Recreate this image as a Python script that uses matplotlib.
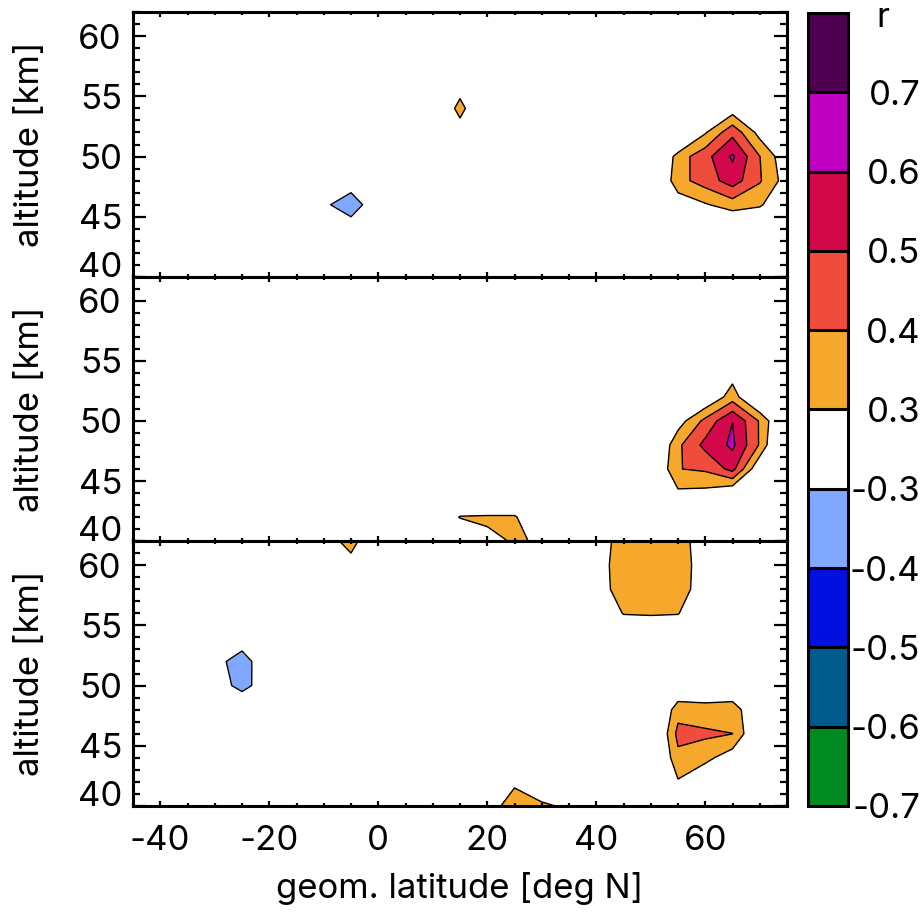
import matplotlib
matplotlib.use("Agg")
import matplotlib.pyplot as plt
import numpy as np
from matplotlib.ticker import MultipleLocator

plt.rcParams["font.family"] = ["Inter", "Liberation Sans", "DejaVu Sans"]
plt.rcParams["font.size"] = 25
plt.rcParams["contour.negative_linestyle"] = "solid"

# correlation grid: 5 deg latitude x 2 km altitude
lat_grid = np.arange(-45, 76, 5)
alt_grid = np.arange(40, 63, 2)

# grid nodes with non-zero r, (lat, alt, r); everything else is 0
top_nodes = [
    # blob near 65N
    (60, 54, 0.15), (65, 54, 0.24), (70, 54, 0.10),
    (55, 52, 0.05), (60, 52, 0.29), (65, 52, 0.471), (70, 52, 0.262), (75, 52, 0.10),
    (50, 50, 0.072), (55, 50, 0.35), (60, 50, 0.464), (65, 50, 0.615), (70, 50, 0.402), (75, 50, 0.22),
    (50, 48, 0.118), (55, 48, 0.364), (60, 48, 0.446), (65, 48, 0.55), (70, 48, 0.41), (75, 48, 0.25),
    (50, 46, 0.05), (55, 46, 0.236), (60, 46, 0.29), (65, 46, 0.35), (70, 46, 0.32), (75, 46, 0.153),
    (55, 44, 0.05), (60, 44, 0.10), (65, 44, 0.15), (70, 44, 0.10), (75, 44, 0.05),
    # small spot at 15N
    (15, 54, 0.32), (10, 54, 0.22), (20, 54, 0.22), (15, 52, 0.27), (15, 56, 0.27),
    # negative spot at 5S
    (-5, 46, -0.33), (-10, 46, -0.29), (0, 46, -0.26), (-5, 48, -0.27), (-5, 44, -0.27),
]

mid_nodes = [
    (60, 54, 0.10), (65, 54, 0.255), (70, 54, 0.05),
    (55, 52, 0.05), (60, 52, 0.19), (65, 52, 0.353), (70, 52, 0.133),
    (50, 50, 0.05), (55, 50, 0.25), (60, 50, 0.429), (65, 50, 0.598), (70, 50, 0.39), (75, 50, 0.12),
    (50, 48, 0.116), (55, 48, 0.379), (60, 48, 0.529), (65, 48, 0.62), (70, 48, 0.39), (75, 48, 0.05),
    (50, 46, 0.142), (55, 46, 0.397), (60, 46, 0.415), (65, 46, 0.533), (70, 46, 0.20),
    (50, 44, 0.05), (55, 44, 0.28), (60, 44, 0.27), (65, 44, 0.20), (70, 44, 0.05),
    # low altitude patch
    (10, 42, 0.10), (15, 42, 0.31), (20, 42, 0.32), (25, 42, 0.32), (30, 42, 0.10),
    (15, 40, 0.10), (20, 40, 0.27), (25, 40, 0.31), (30, 40, 0.29), (35, 40, 0.10),
]

bot_nodes = [
    # negative spot at 25S
    (-25, 54, -0.248), (-30, 52, -0.271), (-25, 52, -0.34), (-20, 52, -0.229),
    (-30, 50, -0.267), (-25, 50, -0.32), (-20, 50, -0.264), (-25, 48, -0.24),
    # top edge at 5S
    (-10, 62, 0.26), (-5, 62, 0.33), (0, 62, 0.215), (-5, 60, 0.27),
    # upper patch 45-55N
    (40, 62, 0.236), (45, 62, 0.35), (50, 62, 0.35), (55, 62, 0.35), (60, 62, 0.236),
    (40, 60, 0.254), (45, 60, 0.35), (50, 60, 0.35), (55, 60, 0.35), (60, 60, 0.25),
    (40, 58, 0.246), (45, 58, 0.35), (50, 58, 0.35), (55, 58, 0.35), (60, 58, 0.242),
    (40, 56, 0.10), (45, 56, 0.31), (50, 56, 0.32), (55, 56, 0.31), (60, 56, 0.10),
    (45, 54, 0.10), (50, 54, 0.10), (55, 54, 0.10),
    # lower patch 55-65N
    (55, 50, 0.18), (60, 50, 0.22), (65, 50, 0.22),
    (50, 48, 0.10), (55, 48, 0.361), (60, 48, 0.331), (65, 48, 0.34), (70, 48, 0.215),
    (50, 46, 0.10), (55, 46, 0.43), (60, 46, 0.42), (65, 46, 0.401), (70, 46, 0.16),
    (50, 44, 0.10), (55, 44, 0.374), (60, 44, 0.33), (65, 44, 0.24), (70, 44, 0.05),
    (55, 42, 0.29), (60, 42, 0.20), (65, 42, 0.10),
    # bottom edge at 25N
    (20, 42, 0.10), (25, 42, 0.28), (30, 42, 0.20), (35, 42, 0.10),
    (20, 40, 0.24), (25, 40, 0.36), (30, 40, 0.32), (35, 40, 0.28),
]

levels = [-0.7, -0.6, -0.5, -0.4, -0.3, 0.3, 0.4, 0.5, 0.6, 0.7, 0.8]
level_labels = ["-0.7", "-0.6", "-0.5", "-0.4", "-0.3", "0.3", "0.4", "0.5", "0.6", "0.7"]
level_colors = ["#008a22", "#005a8c", "#0010e0", "#80a8ff", "#ffffff",
                "#f6a82c", "#f04c3b", "#d2084b", "#c000c0", "#500050"]


def make_field(nodes):
    r = np.zeros((len(alt_grid), len(lat_grid)))
    for lat, alt, val in nodes:
        r[np.searchsorted(alt_grid, alt), np.searchsorted(lat_grid, lat)] = val
    return r


W, H = 922, 914
fig = plt.figure(figsize=(W / 100, H / 100), dpi=100)

x0, x1 = 133 / W, 787 / W
panel_px = [(12, 277), (277, 541), (541, 806)]
axes = []
for top, bot in panel_px:
    ax = fig.add_axes([x0, 1 - bot / H, x1 - x0, (bot - top) / H])
    axes.append(ax)

for ax, nodes in zip(axes, [top_nodes, mid_nodes, bot_nodes]):
    r = make_field(nodes)
    cf = ax.contourf(lat_grid, alt_grid, r, levels=levels, colors=level_colors)
    ax.contour(lat_grid, alt_grid, r, levels=levels[:-1], colors="k",
               linewidths=1.0, linestyles="solid")
    ax.set_xlim(-45, 75)
    ax.set_ylim(40, 62)
    ax.set_xticks([-40, -20, 0, 20, 40, 60])
    ax.xaxis.set_minor_locator(MultipleLocator(5))
    ax.set_yticks([40, 45, 50, 55, 60])
    ax.yaxis.set_minor_locator(MultipleLocator(1))
    ax.tick_params(which="both", direction="in", top=True, right=True, width=1.6)
    ax.tick_params(axis="y", which="major", length=9.4, pad=8)
    ax.tick_params(axis="y", which="minor", length=4.7)
    ax.tick_params(axis="x", which="major", length=3.8, pad=14)
    ax.tick_params(axis="x", which="minor", length=2.0)
    for sp in ax.spines.values():
        sp.set_linewidth(2.2)
    for lab in ax.get_yticklabels():
        if lab.get_text() == "40":
            lab.set_verticalalignment("baseline")
    pos = ax.get_position()
    fig.text(30 / W, (pos.y0 + pos.y1) / 2, "altitude [km]",
             rotation=90, ha="center", va="center")

for ax in axes[:-1]:
    ax.set_xticklabels([])
axes[-1].set_xticklabels(["-40", "-20", "0", "20", "40", "60"])

fig.text(460 / W, 1 - 898 / H, "geom. latitude [deg N]", ha="center", va="baseline")

# colour bar
cax = fig.add_axes([808 / W, 1 - 806 / H, 40 / W, (806 - 13) / H])
cb = fig.colorbar(cf, cax=cax, spacing="uniform", drawedges=True)
cb.set_ticks(levels[:-1])
cb.set_ticklabels(level_labels)
cb.ax.tick_params(length=0, pad=52)
for lab in cb.ax.get_yticklabels():
    lab.set_horizontalalignment("right")
cb.outline.set_linewidth(2.2)
cb.dividers.set_color("k")
cb.dividers.set_linewidth(2.2)
fig.text(883 / W, 1 - 27 / H, "r", ha="center", va="baseline")

fig.savefig("out.png", dpi=100)
